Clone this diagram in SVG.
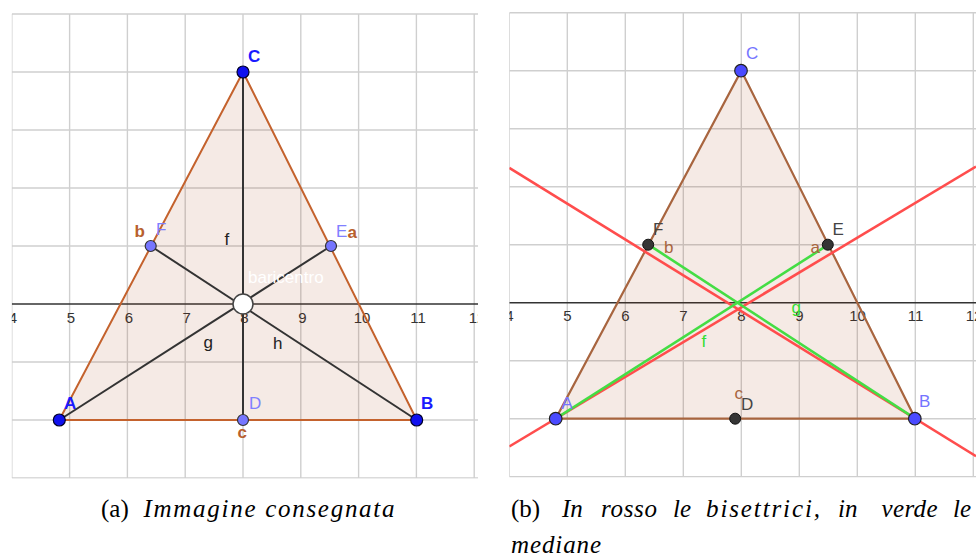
<svg xmlns="http://www.w3.org/2000/svg" width="976" height="560" viewBox="0 0 976 560">
<defs>
<style>
.grid{stroke:#cfcfcf;stroke-width:1.4;fill:none}
.axis{stroke:#333;stroke-width:1.4;fill:none}
.tick{font-family:"Liberation Sans","DejaVu Sans",sans-serif;font-size:15px;fill:#333;text-anchor:middle}
.lbl{font-family:"Liberation Sans","DejaVu Sans",sans-serif;font-size:17px}
.tri1{fill:#993300;fill-opacity:0.1;stroke:#c4622d;stroke-width:2}
.tri2{fill:#993300;fill-opacity:0.1;stroke:#a8653f;stroke-width:2.2}
.med{stroke:#333;stroke-width:2;fill:none}
.red{stroke:#ff4d4d;stroke-width:2.6;fill:none}
.grn{stroke:#44dd44;stroke-width:2.6;fill:none}
.pDark{fill:#1010ee;stroke:#00002a;stroke-width:1.2}
.pLight{fill:#7676ff;stroke:#333;stroke-width:1.2}
.pBlue{fill:#4a4aff;stroke:#222;stroke-width:1.2}
.pGrey{fill:#353535;stroke:#111;stroke-width:1}
.bar{fill:#fff;stroke:#444;stroke-width:1.5}
.cap{font-family:"Liberation Serif","DejaVu Serif",serif;font-size:25px;font-weight:400;fill:#000}
.it{font-style:italic}
</style>
<clipPath id="clipL"><rect x="11.8" y="13" width="466.2" height="465.5"/></clipPath>
<clipPath id="clipR"><rect x="509.3" y="12" width="467" height="465.5"/></clipPath>
</defs>
<rect width="976" height="560" fill="#fff"/>

<!-- LEFT PANEL -->
<g id="panelA" clip-path="url(#clipL)">
<g id="gridA" class="grid">
<path d="M11.8 14V478M69.6 14V478M127.4 14V478M185.2 14V478M243 14V478M300.8 14V478M358.6 14V478M416.4 14V478M474.2 14V478"/>
<path d="M11.8 14H478M11.8 72H478M11.8 130H478M11.8 188H478M11.8 246H478M11.8 362H478M11.8 420H478M11.8 478H478"/>
</g>
<path class="axis" d="M11.8 304H478"/>
<g id="ticksA" class="tick">
<text x="13" y="322.5">4</text><text x="71" y="322.5">5</text><text x="129" y="322.5">6</text><text x="186.7" y="322.5">7</text><text x="244.5" y="322.5">8</text><text x="302.3" y="322.5">9</text><text x="362" y="322.5">10</text><text x="418" y="322.5">11</text><text x="477" y="322.5">12</text>
</g>
<polygon id="triA" class="tri1" points="59.3,420 416.7,420 243,72"/>
<g id="connectorsA">
<line id="f" class="med" x1="243" y1="72" x2="243" y2="420"/>
<line id="g" class="med" x1="59.3" y1="420" x2="331" y2="246"/>
<line id="h" class="med" x1="150.7" y1="246" x2="416.7" y2="420"/>
</g>
<text class="lbl" x="248" y="283" fill="#fff" font-size="18">baricentro</text>
<g id="nodeA_bar"><circle class="bar" cx="243" cy="304" r="10"/></g>
<g id="nodeA_A"><circle class="pDark" cx="59.3" cy="420" r="6"/><text class="lbl" x="64" y="409" fill="#1a1aff" font-weight="bold">A</text></g>
<g id="nodeA_B"><circle class="pDark" cx="416.7" cy="420" r="6"/><text class="lbl" x="421" y="409" fill="#1a1aff" font-weight="bold">B</text></g>
<g id="nodeA_C"><circle class="pDark" cx="243" cy="72" r="6"/><text class="lbl" x="248" y="62" fill="#1a1aff" font-weight="bold">C</text></g>
<g id="nodeA_D"><circle class="pLight" cx="243" cy="420" r="5.5"/><text class="lbl" x="249" y="409" fill="#8080ff">D</text></g>
<g id="nodeA_E"><circle class="pLight" cx="331" cy="246" r="5.5"/><text class="lbl" x="336" y="237" fill="#8080ff">E</text></g>
<g id="nodeA_F"><circle class="pLight" cx="150.7" cy="246" r="5.5"/><text class="lbl" x="156" y="235" fill="#8080ff">F</text></g>
<g id="labelsA" class="lbl">
<text x="347.5" y="237.5" fill="#b8602e" font-weight="bold">a</text>
<text x="134.5" y="237" fill="#b8602e" font-weight="bold">b</text>
<text x="237.5" y="438" fill="#b8602e" font-weight="bold">c</text>
<text x="224.5" y="245" fill="#222">f</text>
<text x="203.5" y="348" fill="#222">g</text>
<text x="273" y="349" fill="#222">h</text>
</g>
</g>

<!-- RIGHT PANEL -->
<g id="panelB" clip-path="url(#clipR)">
<g id="gridB" class="grid">
<path d="M509.3 12.7V476.7M567.3 12.7V476.7M625.3 12.7V476.7M683.3 12.7V476.7M741.3 12.7V476.7M799.3 12.7V476.7M857.3 12.7V476.7M915.3 12.7V476.7M973.3 12.7V476.7"/>
<path d="M509.3 12.7H976M509.3 70.7H976M509.3 128.7H976M509.3 186.7H976M509.3 244.7H976M509.3 360.7H976M509.3 418.7H976M509.3 476.7H976"/>
</g>
<path class="axis" d="M509.3 302.7H976"/>
<g id="ticksB" class="tick">
<text x="509.5" y="321">4</text><text x="567.5" y="321">5</text><text x="625.5" y="321">6</text><text x="683.5" y="321">7</text><text x="741.5" y="321">8</text><text x="799.5" y="321">9</text><text x="857.5" y="321">10</text><text x="915.5" y="321">11</text><text x="974" y="321">12</text>
</g>
<polygon id="triB" class="tri2" points="555.7,418.7 915.3,418.7 741.3,70.7"/>
<g id="connectorsB">
<line id="bisA" class="red" x1="509.3" y1="446.5" x2="976" y2="166.5"/>
<line id="bisB" class="red" x1="509.3" y1="167.8" x2="976" y2="456.2"/>
<line id="medA" class="grn" x1="555.7" y1="418.7" x2="828.3" y2="244.7"/>
<line id="medB" class="grn" x1="648.5" y1="244.7" x2="915.3" y2="418.7"/>
</g>
<g id="nodeB_A"><circle class="pBlue" cx="555.7" cy="418.7" r="6.3"/><text class="lbl" x="561.5" y="409" fill="#7474ff">A</text></g>
<g id="nodeB_B"><circle class="pBlue" cx="914.8" cy="418.7" r="6.3"/><text class="lbl" x="919" y="407" fill="#7474ff">B</text></g>
<g id="nodeB_C"><circle class="pBlue" cx="741" cy="70.7" r="6.3"/><text class="lbl" x="746" y="59" fill="#7474ff">C</text></g>
<g id="nodeB_D"><circle class="pGrey" cx="735.2" cy="418.7" r="5.5"/><text class="lbl" x="741" y="410" fill="#444">D</text></g>
<g id="nodeB_E"><circle class="pGrey" cx="827.8" cy="244.7" r="5.5"/><text class="lbl" x="832.5" y="235" fill="#444">E</text></g>
<g id="nodeB_F"><circle class="pGrey" cx="648.2" cy="244.7" r="5.5"/><text class="lbl" x="653" y="235" fill="#444">F</text></g>
<g id="labelsB" class="lbl">
<text x="810.5" y="253" fill="#a8653f">a</text>
<text x="664" y="253" fill="#a8653f">b</text>
<text x="734.5" y="399" fill="#a8653f">c</text>
<text x="701.5" y="346.5" fill="#33dd33">f</text>
<text x="791.5" y="312.5" fill="#33dd33">g</text>
</g>
</g>

<!-- CAPTIONS -->
<g id="captionA" class="cap">
<text x="101" y="516.5">(a)</text>
<text class="it" x="143.5" y="516.5" textLength="251" lengthAdjust="spacing">Immagine consegnata</text>
</g>
<g id="captionB" class="cap">
<text x="511" y="516.5">(b)</text>
<text class="it" x="562" y="516.5">In</text>
<text class="it" x="601" y="516.5" textLength="56" lengthAdjust="spacing">rosso</text>
<text class="it" x="673" y="516.5">le</text>
<text class="it" x="706" y="516.5" textLength="114" lengthAdjust="spacing">bisettrici,</text>
<text class="it" x="838" y="516.5">in</text>
<text class="it" x="881.5" y="516.5" textLength="56" lengthAdjust="spacing">verde</text>
<text class="it" x="953" y="516.5">le</text>
<text class="it" x="511" y="553" textLength="90" lengthAdjust="spacing">mediane</text>
</g>
</svg>
